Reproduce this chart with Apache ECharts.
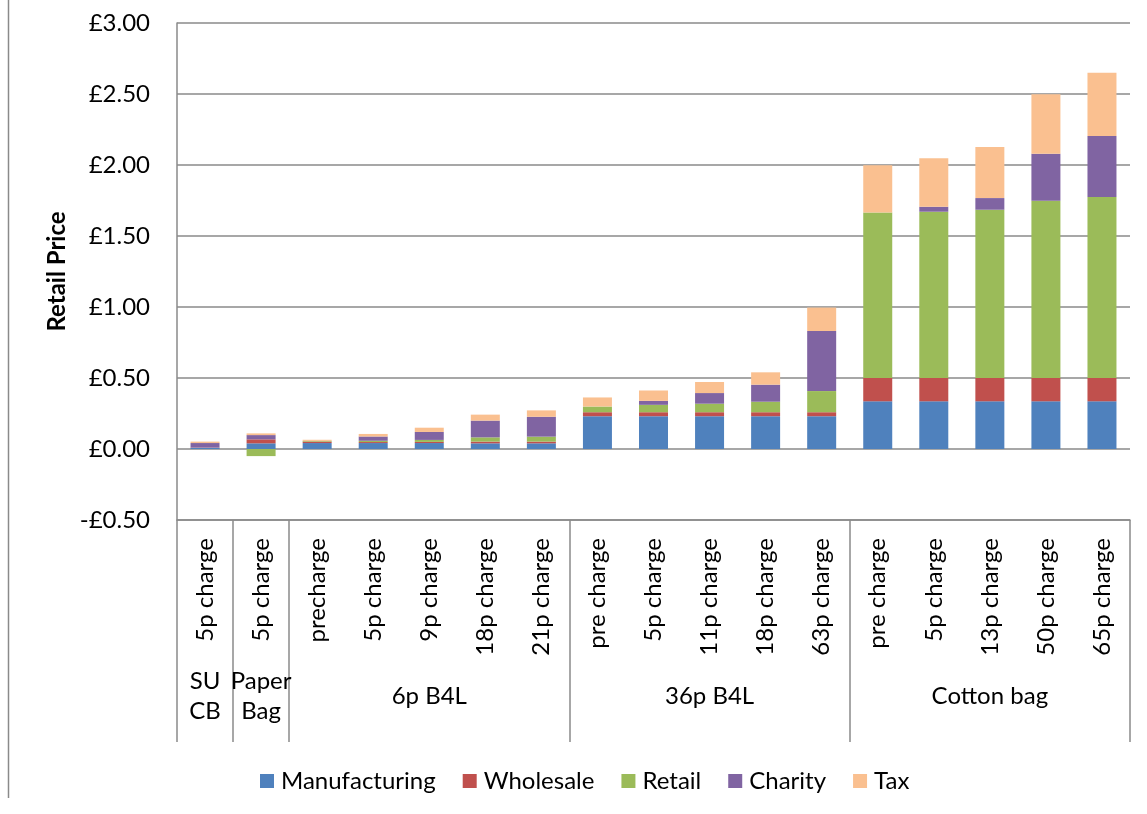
<!DOCTYPE html>
<html>
<head>
<meta charset="utf-8">
<script src="https://cdn.jsdelivr.net/npm/echarts@6/dist/echarts.min.js"></script>
<style>
html,body{margin:0;padding:0;background:#fff;}
#chart{width:1147px;height:814px;}
</style>
</head>
<body>
<div id="chart"></div>
<script>
// ---- data ----
var categories = ['5p charge','5p charge','precharge','5p charge','9p charge','18p charge','21p charge',
  'pre charge','5p charge','11p charge','18p charge','63p charge',
  'pre charge','5p charge','13p charge','50p charge','65p charge'];
var groupNames = ['SU\nCB','Paper\nBag','6p B4L','36p B4L','Cotton bag'];
var groupSizes = [1,1,5,5,5];
var seriesNames = ['Manufacturing','Wholesale','Retail','Charity','Tax'];
var manufacturing = [0.008,0.040,0.042,0.042,0.042,0.040,0.040,0.231,0.231,0.231,0.231,0.231,0.336,0.336,0.336,0.336,0.336];
var wholesale     = [0.002,0.028,0.010,0.007,0.008,0.012,0.012,0.028,0.028,0.028,0.028,0.028,0.164,0.164,0.164,0.164,0.164];
var retail        = [0.000,-0.050,0.005,0.009,0.014,0.030,0.035,0.040,0.052,0.060,0.074,0.149,1.165,1.171,1.185,1.249,1.275];
var charity       = [0.032,0.030,0.000,0.030,0.056,0.118,0.140,0.000,0.028,0.075,0.120,0.423,0.000,0.035,0.082,0.331,0.430];
var tax           = [0.010,0.012,0.008,0.018,0.030,0.042,0.045,0.064,0.073,0.078,0.087,0.165,0.333,0.342,0.359,0.418,0.445];
var yTicks = {min:-0.5, max:3, interval:0.5};

// ---- build ----
var colors = ['#4F81BD','#C0504D','#9BBB59','#8064A2','#FAC090'];
var values = [manufacturing, wholesale, retail, charity, tax];
var groupAxisData = [];
var groupStarts = {};
var idx = 0;
groupSizes.forEach(function(n, g){
  groupStarts[idx] = true;
  for (var i = 0; i < n; i++) {
    groupAxisData.push(i === Math.floor(n/2) ? groupNames[g] : '');
  }
  idx += n;
});
var FONT = 'Lato';
var gridColor = '#8a8a8a';

var chart = echarts.init(document.getElementById('chart'), null, {renderer:'canvas'});
var option = {
  animation: false,
  color: colors,
  grid: {left:177, right:17, top:23, bottom:294, containLabel:false},
  legend: {
    data: seriesNames,
    left: 255, top: 764,
    icon: 'rect', itemWidth: 14, itemHeight: 14, itemGap: 27,
    textStyle: {fontFamily: FONT, fontSize: 24, color: '#000', padding:[0,0,0,2]}
  },
  xAxis: [
    {
      type: 'category', data: categories, position: 'bottom',
      axisLine: {show: true, onZero: false, lineStyle: {color: gridColor, width: 1.5}},
      axisTick: {show: false},
      axisLabel: {interval: 0, rotate: 90, margin: 18, fontFamily: FONT, fontSize: 24, color: '#000'}
    },
    {
      type: 'category', data: groupAxisData, position: 'bottom',
      axisLine: {show: false, onZero: false},
      axisTick: {show: true, length: 222, interval: function(i){ return !!groupStarts[i]; },
                 lineStyle: {color: gridColor, width: 1.5}},
      axisLabel: {interval: 0, margin: 176, verticalAlign: 'middle', lineHeight: 30,
                  fontFamily: FONT, fontSize: 24, color: '#000'}
    }
  ],
  yAxis: {
    type: 'value', min: yTicks.min, max: yTicks.max, interval: yTicks.interval,
    name: 'Retail Price', nameLocation: 'middle', nameGap: 106,
    nameTextStyle: {fontFamily: FONT, fontSize: 24, fontWeight: 'bold', color: '#000'},
    axisLine: {show: true, lineStyle: {color: gridColor, width: 1.5}},
    axisTick: {show: false},
    splitLine: {show: true, lineStyle: {color: gridColor, width: 1.5}},
    axisLabel: {
      margin: 27, fontFamily: FONT, fontSize: 24, color: '#000',
      formatter: function(v){ return (v < 0 ? '-£' : '£') + Math.abs(v).toFixed(2); }
    }
  },
  graphic: [
    {type:'line', shape:{x1:8.5,y1:0,x2:8.5,y2:798}, style:{stroke:'#8a8a8a', lineWidth:1.5}}
  ],
  series: seriesNames.map(function(name, i){
    return {
      name: name, type: 'bar', stack: 'total', data: values[i],
      barWidth: 29,
      itemStyle: {color: colors[i]}
    };
  })
};
chart.setOption(option);
</script>
</body>
</html>
